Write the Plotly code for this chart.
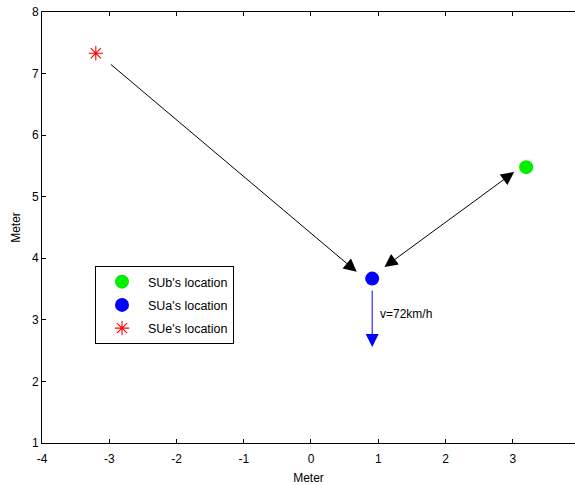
import plotly.graph_objects as go

# Node locations (meters)
names = ["SUb's location", "SUa's location", "SUe's location"]
xs = [3.2, 0.91, -3.2]
ys = [5.48, 3.67, 7.33]
colors = ["#00ee00", "#0000ff", "#ff0000"]
symbols = ["circle", "circle", "asterisk-open"]

# Arrows: (x_tail, y_tail, x_head, y_head)
arrow_eve = (-3.0, 7.17, 0.68, 3.78)
arrow_ab = (1.07, 3.84, 3.02, 5.40)
arrow_v = (0.91, 3.50, 0.91, 2.56)
speed_label = "v=72km/h"
speed_pos = (1.0, 3.1)

x_ticks = [-4, -3, -2, -1, 0, 1, 2, 3]
x_ticktext = ["-4", "-3", "-2", "-1", "0", "1", "2", "3"]
y_ticks = [1, 2, 3, 4, 5, 6, 7, 8]

FONT = "Liberation Sans, Arial, sans-serif"

fig = go.Figure()
for i in range(3):
    fig.add_trace(go.Scatter(
        x=[xs[i]], y=[ys[i]], mode="markers", name=names[i],
        legendgroup=f"g{i}",
        marker=dict(color=colors[i], size=14 if i < 2 else 12, symbol=symbols[i],
                    line=dict(color=colors[i], width=1.1 if i == 2 else 0)),
    ))

def add_arrow(a, color, both=False, size=2.6, width=1):
    fig.add_annotation(
        x=a[2], y=a[3], ax=a[0], ay=a[1], xref="x", yref="y", axref="x", ayref="y",
        showarrow=True, arrowhead=2, arrowsize=size, arrowwidth=width,
        arrowcolor=color, text="", arrowside="end+start" if both else "end",
        startarrowhead=2, startarrowsize=size,
    )

add_arrow(arrow_eve, "black")
add_arrow(arrow_ab, "black", both=True)
add_arrow(arrow_v, "#0000ff")

fig.add_annotation(x=speed_pos[0], y=speed_pos[1], text=speed_label, showarrow=False,
                   xanchor="left", yanchor="middle", font=dict(size=12, color="black", family=FONT))

axis_common = dict(showline=True, linecolor="black", linewidth=1, ticks="inside",
                   ticklen=4, tickcolor="black", showgrid=False, zeroline=False,
                   tickfont=dict(size=12, color="black", family=FONT))

fig.update_layout(
    width=575, height=485,
    margin=dict(l=42, r=0, t=12, b=42),
    paper_bgcolor="white", plot_bgcolor="white",
    font=dict(family=FONT, size=12, color="black"),
    xaxis=dict(range=[-4, 3.926], tickvals=x_ticks, ticktext=x_ticktext, mirror="ticks",
               ticklabelstandoff=5,
               title=dict(text="Meter", font=dict(size=12), standoff=9), **axis_common),
    yaxis=dict(range=[1, 8], tickvals=y_ticks,
               title=dict(text="Meter", font=dict(size=12), standoff=8), **axis_common),
    legend=dict(x=(95 - 42) / 533, y=1 - (266 - 12) / 431, xanchor="left", yanchor="top",
                bordercolor="black", borderwidth=1, bgcolor="white",
                font=dict(size=12.5, family=FONT), tracegroupgap=4,
                itemwidth=42),
    showlegend=True,
)

fig.write_html("out.html")
